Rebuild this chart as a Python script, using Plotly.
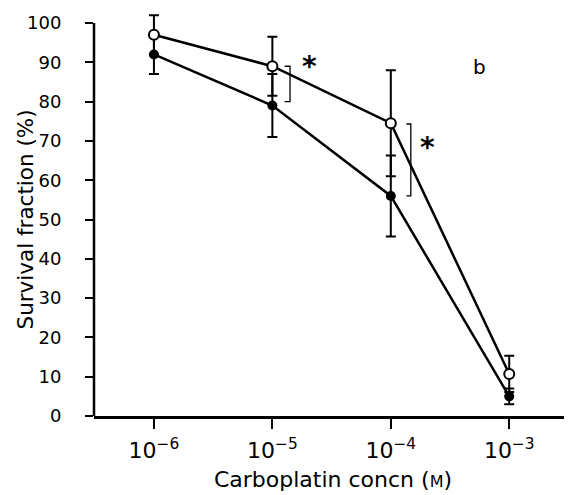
import plotly.graph_objects as go

# Data
conc = [1e-6, 1e-5, 1e-4, 1e-3]
tick_labels = ["10<sup>−6</sup>", "10<sup>−5</sup>", "10<sup>−4</sup>", "10<sup>−3</sup>"]
filled_vals = [92, 79, 56, 5]
filled_err = [5, 8, 10.3, 2]
open_vals = [97, 89, 74.5, 10.7]
open_err = [5, 7.5, 13.5, 4.6]
y_ticks = [0, 10, 20, 30, 40, 50, 60, 70, 80, 90, 100]

# significance brackets (x position, tick x, y top, y bottom) and asterisks (log10 x, y)
brackets = [
    dict(x=1.41e-5, xt=1.27e-5, y0=89, y1=80, star_x=-4.684, star_y=89.6),
    dict(x=1.476e-4, xt=1.355e-4, y0=74.3, y1=56, star_x=-3.688, star_y=69.2),
]
panel_label = dict(text="b", x=-3.249, y=88.7)
y_title = "Survival fraction (%)"
x_title = "Carboplatin concn (<span style='font-size:16px'>M</span>)"

FONT = "DejaVu Sans, Liberation Sans, Arial"

fig = go.Figure()

fig.add_trace(go.Scatter(
    x=conc, y=filled_vals, mode="lines+markers",
    line=dict(color="black", width=2.5),
    marker=dict(symbol="circle", size=10, color="black"),
    error_y=dict(type="data", array=filled_err, color="black", thickness=2, width=5),
    cliponaxis=False, showlegend=False,
))
fig.add_trace(go.Scatter(
    x=conc, y=open_vals, mode="lines+markers",
    line=dict(color="black", width=2.5),
    marker=dict(symbol="circle", size=10, color="white", line=dict(color="black", width=2)),
    error_y=dict(type="data", array=open_err, color="black", thickness=2, width=5),
    cliponaxis=False, showlegend=False,
))

for b in brackets:
    fig.add_trace(go.Scatter(
        x=[b["xt"], b["x"], b["x"], b["xt"]], y=[b["y0"], b["y0"], b["y1"], b["y1"]],
        mode="lines", line=dict(color="black", width=1.3), showlegend=False, hoverinfo="skip",
    ))
    fig.add_annotation(x=b["star_x"], y=b["star_y"], xref="x", yref="y", text="<b>*</b>",
                       showarrow=False, font=dict(size=28, color="black", family=FONT),
                       yshift=-3)

fig.add_annotation(x=panel_label["x"], y=panel_label["y"], xref="x", yref="y",
                   text=panel_label["text"], showarrow=False,
                   font=dict(size=20, color="black", family=FONT))

# y-axis title as rotated annotation centred on the 0-100 span
fig.add_annotation(x=0, xref="paper", xshift=-69, xanchor="center", y=50, yref="y",
                   yanchor="middle", text=y_title, textangle=-90, showarrow=False,
                   font=dict(size=21.5, color="black", family=FONT))

# y axis line drawn only from 0 to 100 (error bars may extend above)
fig.add_shape(type="line", xref="paper", x0=0, x1=0, yref="y", y0=0, y1=100,
              line=dict(color="black", width=2.5))

# page body has an 8px default margin, so figure is sized/offset to compensate
fig.update_layout(
    width=564, height=487,
    margin=dict(l=86, r=0, t=4, b=79),
    plot_bgcolor="white", paper_bgcolor="white",
    font=dict(family=FONT, color="black", size=18),
    xaxis=dict(
        type="log", range=[-6.506, -2.47],
        tickvals=conc, ticktext=tick_labels,
        showline=True, linecolor="black", linewidth=2.5,
        ticks="outside", ticklen=10, tickwidth=2, tickcolor="black",
        showgrid=False, zeroline=False, automargin=False,
        tickfont=dict(size=22), ticklabelstandoff=3,
        title=dict(text=x_title, font=dict(size=22), standoff=10),
    ),
    yaxis=dict(
        range=[0, 102.8], tickvals=y_ticks,
        showline=False,
        ticks="outside", ticklen=8, tickwidth=2, tickcolor="black",
        showgrid=False, zeroline=False, automargin=False,
        tickfont=dict(size=18), ticklabelstandoff=20,
    ),
)

fig.write_html("out.html")
